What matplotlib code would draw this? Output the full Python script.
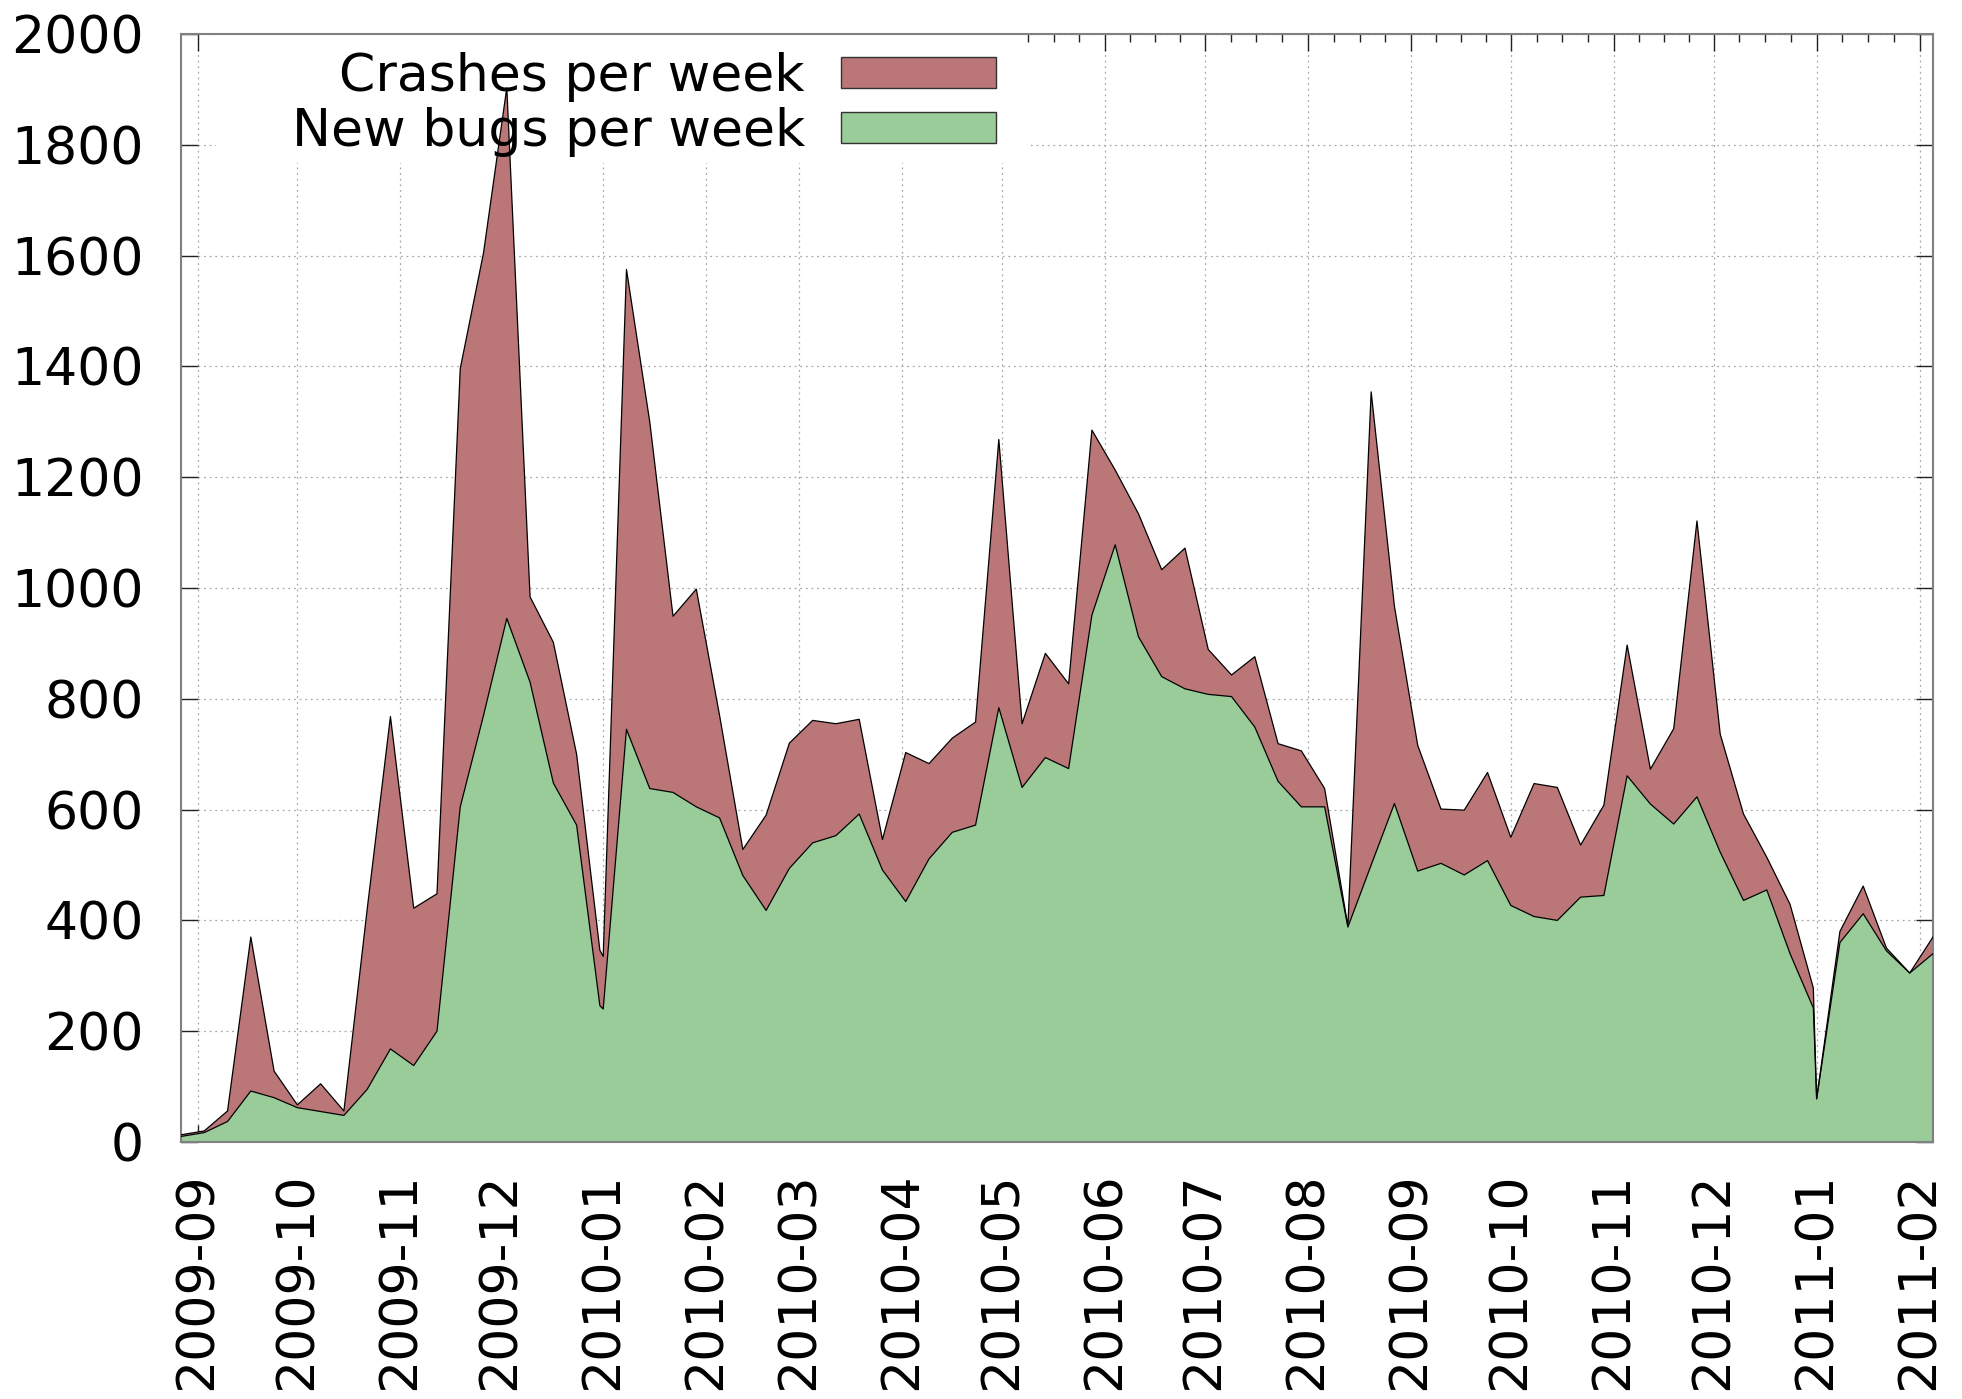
import matplotlib
matplotlib.use("Agg")
import matplotlib.pyplot as plt
import matplotlib.dates as mdates
from matplotlib.patches import Patch, Rectangle
from matplotlib.ticker import FixedLocator
from datetime import datetime, timedelta
import numpy as np

# weekly buckets: (year, week-of-year), week 0 starts on Jan 1
years = [2009] * 19 + [2010] * 53 + [2011] * 6
weeks = list(range(34, 53)) + list(range(0, 53)) + list(range(0, 6))

new_bugs = [
    # 2009 wk34-52
    10, 17, 37, 92, 80, 62, 55, 48, 95, 168, 138, 200, 605, 770, 945, 830, 648, 572, 246,
    # 2010 wk0-52
    240, 745, 638, 631, 605, 585, 481, 418, 494, 540, 553, 592, 491, 434, 511, 559, 572,
    784, 640, 694, 674, 951, 1078, 912, 840, 818, 808, 804, 749, 651, 605, 605, 388,
    500, 611, 489, 503, 482, 508, 427, 407, 400, 442, 445, 661, 610, 574, 623, 523,
    436, 455, 340, 242,
    # 2011 wk0-5
    78, 360, 412, 345, 305, 340,
]

crashes = [
    # 2009 wk34-52
    3, 3, 19, 278, 48, 5, 50, 8, 325, 600, 284, 248, 791, 835, 958, 154, 254, 128, 100,
    # 2010 wk0-52
    95, 830, 662, 318, 393, 185, 47, 172, 226, 221, 202, 171, 55, 269, 172, 170, 186,
    484, 115, 188, 153, 334, 135, 222, 193, 254, 81, 39, 127, 68, 101, 33, 2,
    854, 356, 227, 98, 117, 159, 123, 240, 240, 94, 163, 236, 63, 172, 498, 213,
    156, 59, 89, 36,
    # 2011 wk0-5
    0, 20, 50, 5, 0, 30,
]

dates = [datetime(y, 1, 1) + timedelta(weeks=w) for y, w in zip(years, weeks)]
bugs = np.array(new_bugs)
total = bugs + np.array(crashes)

plt.rcParams['font.family'] = 'DejaVu Sans'
plt.rcParams['font.size'] = 37.5

red = '#bb7777'
green = '#99cc99'

fig = plt.figure(figsize=(19.62, 13.99), dpi=100)
ax = fig.add_axes([181 / 1962, 1 - 1142 / 1399, (1933 - 181) / 1962, (1142 - 34) / 1399])

ax.fill_between(dates, bugs, total, facecolor=red, edgecolor='none', zorder=2)
ax.fill_between(dates, 0, bugs, facecolor=green, edgecolor='none', zorder=2)
ax.plot(dates, total, color='black', lw=0.9, zorder=3)
ax.plot(dates, bugs, color='black', lw=0.9, zorder=3)

ax.set_xlim(dates[0], dates[-1])
ax.set_ylim(0, 2000)
ax.set_yticks(np.arange(0, 2001, 200))

# month ticks, 4 minor intervals per month
months = [datetime(2009 + (8 + i) // 12, (8 + i) % 12 + 1, 1) for i in range(20)]
minor = []
for a, b in zip(months[:-1], months[1:]):
    step = (b - a) / 4
    minor += [a + step * k for k in (1, 2, 3)]
ax.xaxis.set_major_locator(mdates.MonthLocator())
ax.xaxis.set_major_formatter(mdates.DateFormatter('%Y-%m'))
ax.xaxis.set_minor_locator(FixedLocator(mdates.date2num(minor)))

ax.tick_params(which='both', direction='in', top=True, right=True, color='#222222', width=1)
ax.tick_params(which='major', length=12)
ax.tick_params(which='minor', length=5.8)
ax.tick_params(axis='x', which='major', pad=22, labelrotation=90)
ax.tick_params(axis='y', which='major', pad=27)

for s in ax.spines.values():
    s.set_color('#808080')
    s.set_linewidth(1.5)

ax.set_axisbelow(True)
ax.grid(True, which='major', color='#a8a8a8', linestyle=(0, (1.5, 3)), lw=0.9)

# opaque key box, like gnuplot's
ax.add_patch(Rectangle((0.02, 0.8836), 0.463, 0.1164, transform=ax.transAxes,
                       facecolor='white', edgecolor='none', zorder=1))

handles = [Patch(facecolor=red, edgecolor='#333333', lw=1),
           Patch(facecolor=green, edgecolor='#333333', lw=1)]
leg = ax.legend(handles, ['Crashes per week', 'New bugs per week'],
                loc='upper right', bbox_to_anchor=(996 / 1962, 1 - 52 / 1399),
                bbox_transform=fig.transFigure, frameon=False, markerfirst=False,
                borderpad=0, borderaxespad=0, handlelength=2.98, handleheight=0.54,
                handletextpad=0.69, labelspacing=0.1, fontsize=37.5)
leg.set_zorder(5)

fig.savefig('out.png', dpi=100)
